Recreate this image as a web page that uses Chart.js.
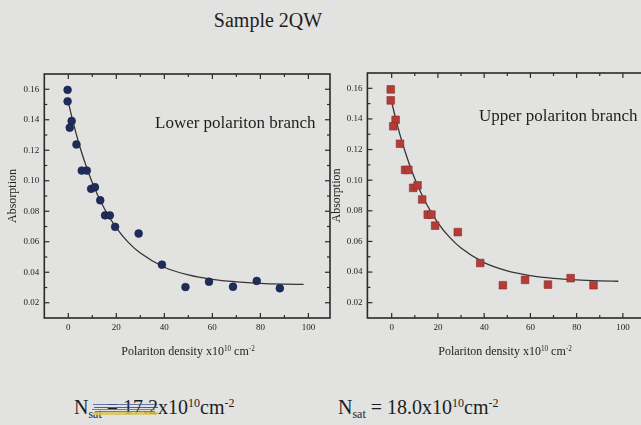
<!DOCTYPE html>
<html>
<head>
<meta charset="utf-8">
<script src="https://cdn.jsdelivr.net/npm/chart.js@4/dist/chart.umd.min.js"></script>
<style>
  html, body { margin: 0; padding: 0; }
  body {
    width: 641px; height: 425px; overflow: hidden; position: relative;
    background: #e2e2e0;
    font-family: 'Liberation Serif', 'Times New Roman', serif; color: #1e1e1e;
  }
  .abs { position: absolute; white-space: nowrap; }
  canvas { position: absolute; }
  #title { left: 268px; top: 10px; font-size: 20px; line-height: 20px; transform: translateX(-50%); }
  .branch { font-size: 17px; line-height: 17px; }
  .xtitle { font-size: 12px; line-height: 12px; transform: translateX(-50%); }
  .xtitle sup, .nsat sup { font-size: 60%; vertical-align: 0; position: relative; top: -0.55em; }
  .nsat { font-size: 20px; line-height: 20px; }
  .nsat sub { font-size: 60%; vertical-align: 0; position: relative; top: 0.3em; }
  .scrib { position: absolute; height: 1.3px; }
</style>
</head>
<body>
<div id="title" class="abs">Sample 2QW</div>

<canvas id="lower" width="335" height="300" style="left:0px;top:60px;width:335px;height:300px"></canvas>
<canvas id="upper" width="330" height="300" style="left:322px;top:60px;width:330px;height:300px"></canvas>

<div class="abs branch" style="left:155px;top:114px">Lower polariton branch</div>
<div class="abs branch" style="left:479px;top:107px">Upper polariton branch</div>

<div class="abs xtitle" style="left:188px;top:345px">Polariton density x10<sup>10</sup> cm<sup>-2</sup></div>
<div class="abs xtitle" style="left:505px;top:345px">Polariton density x10<sup>10</sup> cm<sup>-2</sup></div>

<div class="abs nsat" style="left:74px;top:397px">N<sub>sat</sub> = 17.2x10<sup>10</sup>cm<sup>-2</sup></div>
<div class="abs nsat" style="left:338px;top:397px">N<sub>sat</sub> = 18.0x10<sup>10</sup>cm<sup>-2</sup></div>

<!-- coloured pen strokes over the left value -->
<div class="scrib" style="left:93px;top:404px;width:62px;background:#4a62b0;opacity:.85"></div>
<div class="scrib" style="left:94px;top:406.5px;width:64px;background:#3b3b58;opacity:.8"></div>
<div class="scrib" style="left:92px;top:408.5px;width:63px;background:#c44a48;opacity:.85"></div>
<div class="scrib" style="left:95px;top:410.5px;width:60px;background:#4a62b0;opacity:.8"></div>
<div class="scrib" style="left:93px;top:412px;width:64px;height:2.5px;background:#d8c45c;opacity:.85"></div>

<script>
// Lower polariton branch: measured absorption vs polariton density
const lowerDensity = [-0.3, -0.3, 1.4, 0.6, 3.4, 5.6, 7.7, 9.5, 11.1, 13.3, 15.3, 17.3, 19.5, 29.3, 39.0, 48.8, 58.6, 68.6, 78.5, 88.1];
const lowerAbsorption = [0.1596, 0.1521, 0.1392, 0.1348, 0.1238, 0.1067, 0.1067, 0.0947, 0.0958, 0.0872, 0.0773, 0.0773, 0.0698, 0.0654, 0.0450, 0.0303, 0.0338, 0.0305, 0.0343, 0.0295];

// Upper polariton branch
const upperDensity = [-0.4, -0.4, 1.7, 0.7, 3.6, 5.8, 7.2, 9.3, 11.2, 13.2, 15.6, 17.2, 18.8, 28.6, 38.3, 48.1, 57.7, 67.6, 77.4, 87.3];
const upperAbsorption = [0.1593, 0.1521, 0.1394, 0.1352, 0.1238, 0.1067, 0.1067, 0.0950, 0.0966, 0.0874, 0.0775, 0.0775, 0.0703, 0.0661, 0.0459, 0.0314, 0.0349, 0.0318, 0.0360, 0.0314];

// Saturation fit curves (sampled along the density axis)
const fitDensity = [0, 2, 5, 10, 15, 20, 25, 30, 40, 50, 60, 70, 80, 90, 98];
const lowerFit = [0.1516, 0.1384, 0.1213, 0.0987, 0.0818, 0.0691, 0.0596, 0.0526, 0.0433, 0.0382, 0.0353, 0.0337, 0.0327, 0.0322, 0.0320];
const upperFit = [0.1510, 0.1386, 0.1225, 0.1009, 0.0846, 0.0722, 0.0628, 0.0557, 0.0462, 0.0408, 0.0377, 0.0359, 0.0349, 0.0343, 0.0340];

// Axis tick labels
const xTickLabels = ['0', '20', '40', '60', '80', '100'];
const yTickLabels = ['0.02', '0.04', '0.06', '0.08', '0.10', '0.12', '0.14', '0.16'];

Chart.defaults.font.family = "'Liberation Serif', 'Times New Roman', serif";
Chart.defaults.color = '#222';

const toPoints = (xs, ys) => xs.map((v, i) => ({ x: v, y: ys[i] }));

// Boxed frame with inward ticks on all four sides
const frameTicks = {
  id: 'frameTicks',
  afterDatasetsDraw(chart) {
    const { ctx, chartArea: a, scales: { x, y } } = chart;
    ctx.save();
    ctx.strokeStyle = '#2a2a2a';
    ctx.lineWidth = 1.2;
    const seg = (x1, y1, x2, y2) => { ctx.beginPath(); ctx.moveTo(x1, y1); ctx.lineTo(x2, y2); ctx.stroke(); };
    x.ticks.forEach(t => {
      const px = x.getPixelForValue(t.value);
      if (px < a.left + 2 || px > a.right - 2) return;
      const len = Math.round(t.value) % 20 === 0 ? 5 : 3;
      seg(px, a.bottom, px, a.bottom - len);
      seg(px, a.top, px, a.top + len);
    });
    y.ticks.forEach(t => {
      const py = y.getPixelForValue(t.value);
      if (py < a.top + 2 || py > a.bottom - 2) return;
      const len = Math.round(t.value * 100) % 2 === 0 ? 5 : 3;
      seg(a.left, py, a.left + len, py);
      seg(a.right, py, a.right - len, py);
    });
    ctx.lineWidth = 1.6;
    ctx.strokeRect(a.left, a.top, a.right - a.left, a.bottom - a.top);
    ctx.restore();
  }
};

function makeChart(id, opts) {
  return new Chart(document.getElementById(id), {
    type: 'scatter',
    data: {
      datasets: [
        {
          data: toPoints(opts.xs, opts.ys),
          pointStyle: opts.style,
          pointRadius: opts.radius,
          pointHoverRadius: opts.radius,
          backgroundColor: opts.color,
          borderColor: opts.edge,
          borderWidth: 0.6,
          order: 0
        },
        {
          data: toPoints(fitDensity, opts.fit),
          showLine: true,
          cubicInterpolationMode: 'monotone',
          borderColor: '#363636',
          borderWidth: 1.3,
          pointRadius: 0,
          order: 1
        }
      ]
    },
    options: {
      responsive: false,
      animation: false,
      events: [],
      layout: { padding: opts.padding },
      plugins: { legend: { display: false }, tooltip: { enabled: false } },
      scales: {
        x: {
          type: 'linear',
          min: opts.xMin, max: opts.xMax,
          grid: { display: false, drawTicks: false },
          border: { display: false },
          afterFit: s => { s.height = 42; },
          ticks: {
            stepSize: 10,
            includeBounds: false,
            maxRotation: 0,
            autoSkip: false,
            padding: 4,
            font: { size: 9 },
            callback: v => {
              const lbl = String(Math.round(v));
              return xTickLabels.includes(lbl) && Math.abs(v - Math.round(v)) < 1e-6 ? lbl : '';
            }
          }
        },
        y: {
          type: 'linear',
          min: 0.01, max: 0.17,
          grid: { display: false, drawTicks: false },
          border: { display: false },
          afterFit: s => { s.width = opts.yWidth; },
          title: {
            display: true,
            text: 'Absorption',
            font: { size: 12 },
            padding: { top: opts.titlePad, bottom: 0 }
          },
          ticks: {
            stepSize: 0.01,
            includeBounds: false,
            autoSkip: false,
            padding: 5,
            font: { size: 9 },
            callback: v => {
              const lbl = v.toFixed(2);
              return yTickLabels.includes(lbl) ? lbl : '';
            }
          }
        }
      }
    },
    plugins: [frameTicks]
  });
}

makeChart('lower', {
  xs: lowerDensity, ys: lowerAbsorption, fit: lowerFit,
  style: 'circle', radius: 3.9, color: '#1d2c5a', edge: '#15204a',
  xMin: -10, xMax: 109,
  padding: { left: 0, top: 14, right: 5, bottom: 0 },
  yWidth: 44.3, titlePad: 6
});

makeChart('upper', {
  xs: upperDensity, ys: upperAbsorption, fit: upperFit,
  style: 'rect', radius: 5.4, color: '#b23d38', edge: '#8e2c28',
  xMin: -10.5, xMax: 110,
  padding: { left: 0, top: 13, right: 5.5, bottom: 0 },
  yWidth: 45.4, titlePad: 8
});
</script>
</body>
</html>
